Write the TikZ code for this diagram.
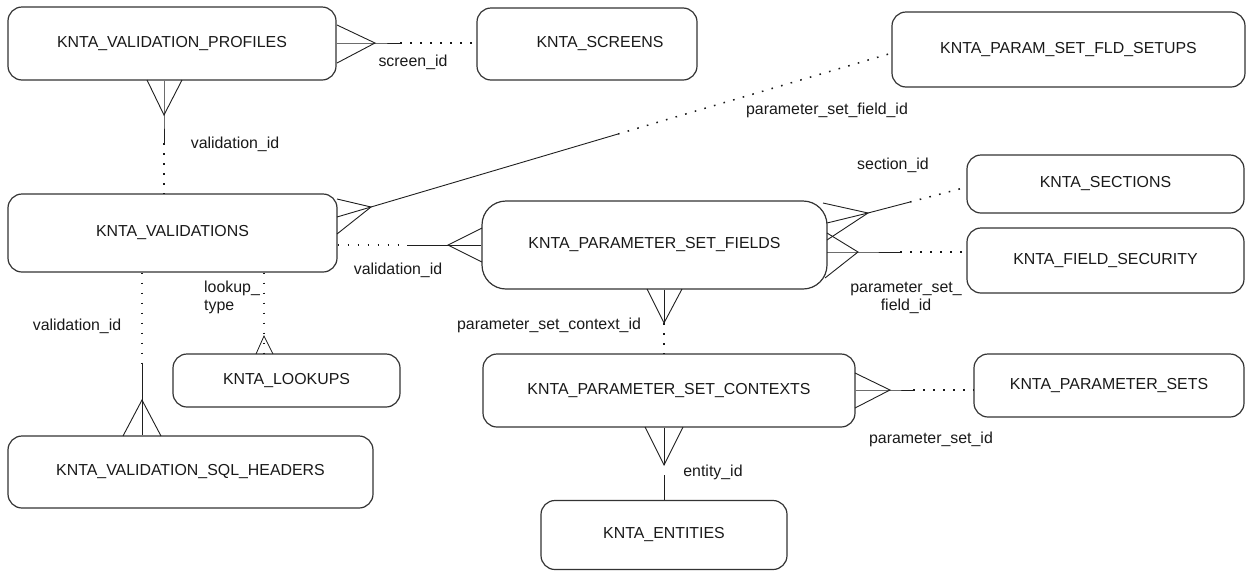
\documentclass[tikz,border=0pt]{standalone}
\usepackage{fontspec}
\setmainfont{Liberation Sans}
\begin{document}
\begin{tikzpicture}[x=1pt,y=-1pt,
  font=\fontsize{15.9}{18.5}\selectfont,
  ent/.style={draw=black!80, line width=1.2pt, rounded corners=14pt, inner sep=0pt, text=black!90},
  rel/.style={draw=black!88, line width=0.9pt},
  dotl/.style={draw=black!90, line width=1.5pt, dash pattern=on 1.6pt off 8.4pt},
  lbl/.style={text=black!90, inner sep=0pt}]
\useasboundingbox (0,0) rectangle (1247,571);

% entities
\node[ent, minimum width=328pt, minimum height=73pt] (vp) at (172,43.5) {KNTA\_VALIDATION\_PROFILES};
\node[ent, minimum width=220pt, minimum height=72pt] (scr) at (587,44) {\hspace{26pt}KNTA\_SCREENS};
\node[ent, minimum width=353pt, minimum height=75pt] (fld) at (1068.5,49.5) {KNTA\_PARAM\_SET\_FLD\_SETUPS};
\node[ent, minimum width=329pt, minimum height=78pt] (val) at (172.5,233) {KNTA\_VALIDATIONS\hspace{50pt}};
\node[ent, rounded corners=24pt, minimum width=345pt, minimum height=88pt] (psf) at (654.5,245) {KNTA\_PARAMETER\_SET\_FIELDS};
\node[ent, minimum width=277pt, minimum height=58pt] (sect) at (1105.5,184) {KNTA\_SECTIONS\hspace{32pt}};
\node[ent, minimum width=277pt, minimum height=65pt] (fsec) at (1105.5,260.5) {KNTA\_FIELD\_SECURITY};
\node[ent, minimum width=227pt, minimum height=53pt] (look) at (286.5,380.5) {KNTA\_LOOKUPS};
\node[ent, minimum width=365pt, minimum height=72pt] (sql) at (190.5,472) {KNTA\_VALIDATION\_SQL\_HEADERS};
\node[ent, minimum width=372pt, minimum height=73pt] (psc) at (669,390.5) {KNTA\_PARAMETER\_SET\_CONTEXTS};
\node[ent, minimum width=270pt, minimum height=63pt] (psets) at (1109,385.5) {KNTA\_PARAMETER\_SETS};
\node[ent, minimum width=246pt, minimum height=69pt] (ent) at (664,535) {KNTA\_ENTITIES};

% 1 VP - SCREENS
\coordinate (t1) at (375,43);
\coordinate (m1) at (400,43);
\draw[rel] (337,25) -- (t1) -- (337,63);
\draw[rel] (vp.east |- t1) -- (t1) -- (m1);
\draw[dotl] (m1) -- (scr.west |- m1);
\node[lbl] (l1) at (413,62) {screen\_id};

% 2 VP - VALIDATIONS
\coordinate (t2) at (164,115);
\coordinate (m2) at (164,143);
\draw[rel] (147,80) -- (t2) -- (182,80);
\draw[rel] (vp.south -| t2) -- (t2) -- (m2);
\draw[dotl] (m2) -- (val.north -| m2);
\node[lbl] (l2) at (235,144) {validation\_id};

% 3 VALIDATIONS - PARAM_SET_FLD_SETUPS
\coordinate (t3) at (371,207);
\coordinate (m3) at (618,134);
\coordinate (e3) at (892,53);
\draw[rel] (337,199) -- (t3) -- (337,234);
\draw[rel] (337,217) -- (t3) -- (m3);
\draw[dotl] (m3) -- (e3);
\node[lbl] (l3) at (827,110) {parameter\_set\_field\_id};

% 4 VALIDATIONS - PARAMETER_SET_FIELDS
\coordinate (t4) at (448,245);
\coordinate (m4) at (407,245);
\draw[dotl] (val.east |- m4) -- (m4);
\draw[rel] (m4) -- (t4);
\draw[rel] (482,228) -- (t4) -- (482,262);
\draw[rel] (t4) -- (psf.west |- t4);
\node[lbl] (l4) at (398,270) {validation\_id};

% 5 PARAMETER_SET_FIELDS - SECTIONS
\coordinate (t5) at (868,213);
\coordinate (m5) at (910,202);
\coordinate (e5) at (967,187);
\draw[rel] (823,203) -- (t5) -- (827,240);
\draw[rel] (827,223) -- (t5) -- (m5);
\draw[dotl] (m5) -- (e5);
\node[lbl] (l5) at (893,165) {section\_id};

% 6 PARAMETER_SET_FIELDS - FIELD_SECURITY
\coordinate (t6) at (858,252);
\coordinate (m6) at (900,252);
\draw[rel] (827,233) -- (t6) -- (825,278);
\draw[rel] (827,252) -- (t6) -- (m6);
\draw[dotl] (m6) -- (fsec.west |- m6);
\node[lbl, align=center] (l6) at (906,298) {parameter\_set\_\\field\_id};

% 7 VALIDATIONS - SQL_HEADERS
\coordinate (m7) at (142,363);
\coordinate (t7) at (142,400);
\draw[dotl] (val.south -| m7) -- (m7);
\draw[rel] (m7) -- (sql.north -| m7);
\draw[rel] (123,436) -- (t7) -- (161,436);
\node[lbl] (l7) at (77,326) {validation\_id};

% 8 VALIDATIONS - LOOKUPS
\coordinate (t8) at (264,336);
\draw[dotl] (val.south -| t8) -- (look.north -| t8);
\draw[rel, line width=0.8pt] (256,354) -- (t8) -- (273,354);
\node[lbl, anchor=west, align=left] (l8) at (204,297.5) {lookup\_\\type};

% 9 PARAMETER_SET_FIELDS - PARAMETER_SET_CONTEXTS
\coordinate (t9) at (664,323);
\draw[rel] (647,289) -- (t9) -- (682,289);
\draw[rel] (psf.south -| t9) -- (t9);
\draw[dotl] (t9) -- (psc.north -| t9);
\node[lbl] (l9) at (549,325) {parameter\_set\_context\_id};

% 10 PARAMETER_SET_CONTEXTS - PARAMETER_SETS
\coordinate (t10) at (890,390);
\coordinate (m10) at (913,390);
\draw[rel] (855,373) -- (t10) -- (855,408);
\draw[rel] (psc.east |- t10) -- (t10) -- (m10);
\draw[dotl] (m10) -- (psets.west |- m10);
\node[lbl] (l10) at (931,439) {parameter\_set\_id};

% 11 PARAMETER_SET_CONTEXTS - ENTITIES
\coordinate (t11) at (664,465);
\coordinate (m11) at (664,475);
\draw[rel] (645,427) -- (t11) -- (683,427);
\draw[rel] (psc.south -| t11) -- (t11);
\draw[rel] (m11) -- (ent.north);
\node[lbl] (l11) at (713,472) {entity\_id};
\end{tikzpicture}
\end{document}
